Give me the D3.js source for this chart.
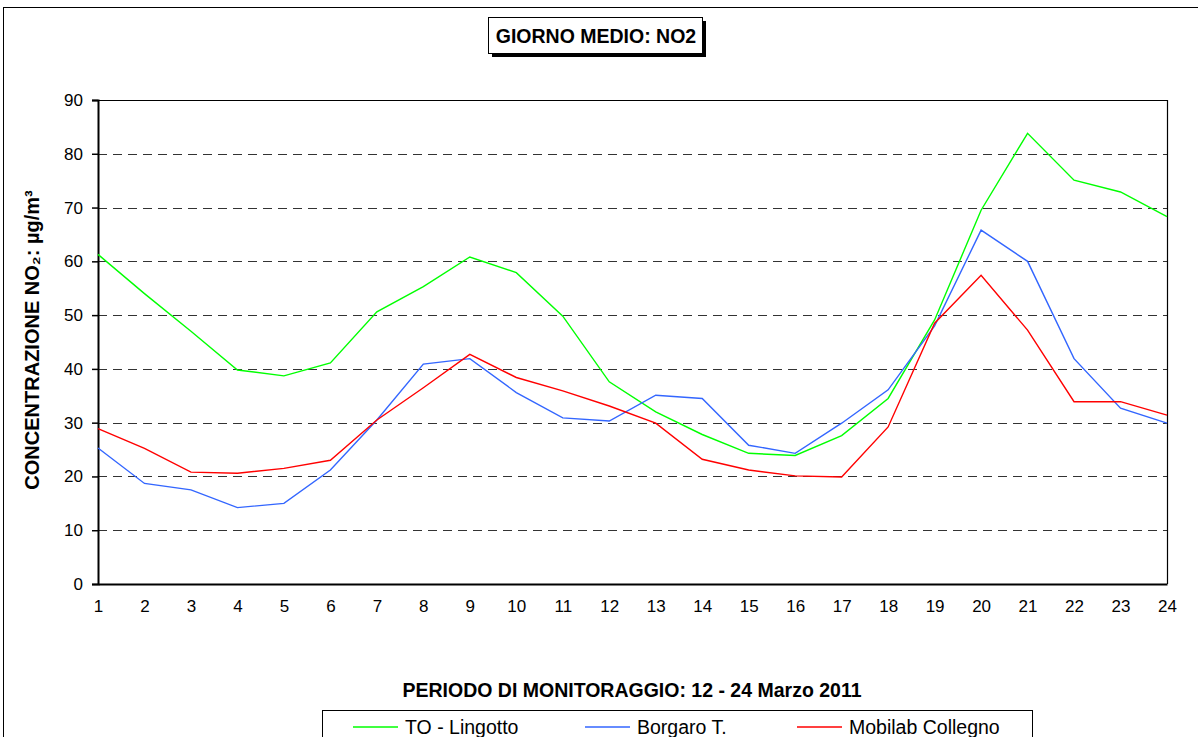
<!DOCTYPE html>
<html lang="it">
<head>
<meta charset="UTF-8">
<title>Giorno medio NO2</title>
<script src="https://d3js.org/d3.v7.min.js"></script>
<style>
  body { margin: 0; background: #fff; }
  svg text { font-family: "Liberation Sans Narrow", "Liberation Sans", Arial, sans-serif; fill: #000; }
  .tick text { font-size: 17px; }
  .bold { font-weight: bold; }
</style>
</head>
<body>
<svg id="chart" width="1198" height="737"></svg>
<script>
// days of the monitoring period
const days = d3.range(1, 25);
const yTicks = [0, 10, 20, 30, 40, 50, 60, 70, 80, 90];

const toLingotto = [61.3, 54.0, 47.0, 39.8, 38.7, 41.1, 50.6, 55.3, 60.8, 57.9, 49.8, 37.6,
                    32.0, 27.8, 24.3, 23.9, 27.6, 34.5, 49.1, 69.5, 83.8, 75.1, 72.9, 68.3];
const borgaro = [25.3, 18.7, 17.5, 14.2, 15.0, 21.2, 30.5, 40.9, 41.9, 35.6, 30.9, 30.3,
                 35.1, 34.5, 25.8, 24.3, 29.9, 36.1, 48.0, 65.8, 60.0, 41.9, 32.7, 29.9];
const mobilab = [28.9, 25.2, 20.8, 20.6, 21.5, 23.0, 30.5, 36.5, 42.7, 38.4, 35.9, 33.1,
                 29.9, 23.2, 21.2, 20.1, 19.9, 29.2, 48.5, 57.4, 47.2, 33.9, 33.9, 31.4];

const seriesNames = ["TO - Lingotto", "Borgaro T.", "Mobilab Collegno"];
const seriesColors = ["#00ff00", "#3366ff", "#ff0000"];
const seriesData = [toLingotto, borgaro, mobilab];

const svg = d3.select("#chart");
const plotL = 98, plotR = 1167, plotT = 100, plotB = 584;

const x = d3.scaleLinear().domain([1, 24]).range([plotL, plotR]);
const y = d3.scaleLinear().domain([0, 90]).range([plotB, plotT]);

// outer frame
svg.append("rect")
  .attr("x", 3.5).attr("y", 7.5)
  .attr("width", 1200).attr("height", 740)
  .attr("fill", "none").attr("stroke", "#000").attr("stroke-width", 1);

// gridlines
svg.append("g")
  .selectAll("line")
  .data(yTicks.filter(d => d > 0 && d < 90))
  .join("line")
  .attr("x1", plotL).attr("x2", plotR)
  .attr("y1", d => Math.round(y(d)) + 0.5).attr("y2", d => Math.round(y(d)) + 0.5)
  .attr("stroke", "#333").attr("stroke-width", 1.2)
  .attr("stroke-dasharray", "9,6");

// plot border (top and right)
svg.append("path")
  .attr("d", `M${plotL},${plotT + 0.5}H${plotR + 0.5}V${plotB}`)
  .attr("fill", "none").attr("stroke", "#000").attr("stroke-width", 1.2);

// y axis
const yAxis = svg.append("g")
  .attr("transform", `translate(${plotL},0)`)
  .call(d3.axisLeft(y).tickValues(yTicks).tickSize(6).tickPadding(9));
yAxis.select(".domain").attr("stroke-width", 2);
yAxis.selectAll(".tick line").attr("stroke-width", 1.5);

// x axis
const xAxis = svg.append("g")
  .attr("transform", `translate(0,${plotB})`)
  .call(d3.axisBottom(x).tickValues(days).tickSize(0).tickPadding(16));
xAxis.select(".domain").attr("stroke-width", 2);

// lines
const line = d3.line()
  .x((d, i) => x(days[i]))
  .y(d => y(d));

svg.append("g")
  .selectAll("path")
  .data(seriesData)
  .join("path")
  .attr("d", line)
  .attr("fill", "none")
  .attr("stroke", (d, i) => seriesColors[i])
  .attr("stroke-width", 1.4);

// title box with shadow
svg.append("rect").attr("x", 492).attr("y", 21).attr("width", 214).attr("height", 36).attr("fill", "#000");
svg.append("rect").attr("x", 488.5).attr("y", 17.5).attr("width", 214).attr("height", 36)
  .attr("fill", "#fff").attr("stroke", "#000").attr("stroke-width", 1);
svg.append("text").attr("class", "bold")
  .attr("x", 596).attr("y", 43).attr("text-anchor", "middle")
  .style("font-size", "19.5px")
  .text("GIORNO MEDIO: NO2");

// y label
svg.append("text").attr("class", "bold")
  .attr("transform", "translate(39,340) rotate(-90)")
  .attr("text-anchor", "middle")
  .style("font-size", "20px")
  .text("CONCENTRAZIONE NO\u2082:  \u00b5g/m\u00b3");

// x label
svg.append("text").attr("class", "bold")
  .attr("x", 632).attr("y", 697).attr("text-anchor", "middle")
  .style("font-size", "19.5px")
  .text("PERIODO DI MONITORAGGIO: 12 - 24 Marzo 2011");

// legend
svg.append("rect")
  .attr("x", 322.5).attr("y", 710.5).attr("width", 710).attr("height", 40)
  .attr("fill", "#fff").attr("stroke", "#000").attr("stroke-width", 1);
const legendX = [353, 585, 797];
const lg = svg.append("g").selectAll("g")
  .data(seriesNames)
  .join("g")
  .attr("transform", (d, i) => `translate(${legendX[i]},727)`);
lg.append("line").attr("x1", 0).attr("x2", 45)
  .attr("stroke", (d, i) => seriesColors[i]).attr("stroke-width", 1.4);
lg.append("text").attr("x", 52).attr("y", 7)
  .style("font-size", "19.5px")
  .text(d => d);
</script>
</body>
</html>
